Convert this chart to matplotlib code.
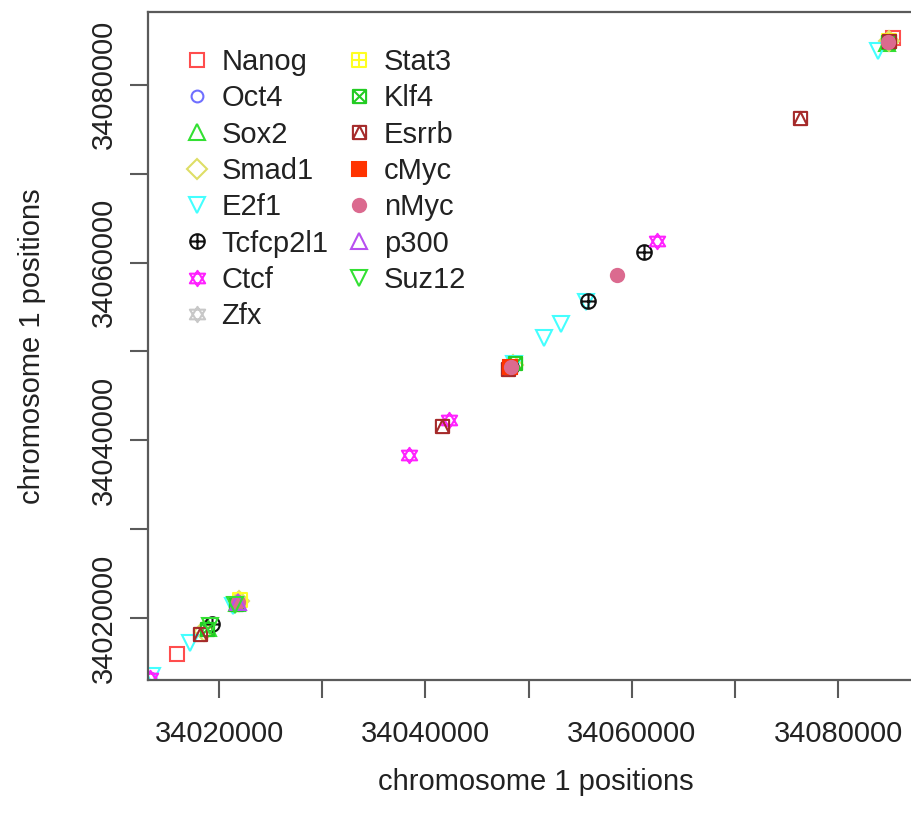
import matplotlib
matplotlib.use("Agg")
import matplotlib.pyplot as plt
from matplotlib.path import Path
import numpy as np

plt.rcParams['font.family'] = ['Liberation Sans', 'DejaVu Sans']

# ---- data (chromosome 1 positions, bp) ----
factors = ["Nanog", "Oct4", "Sox2", "Smad1", "E2f1", "Tcfcp2l1", "Ctcf", "Zfx",
           "Stat3", "Klf4", "Esrrb", "cMyc", "nMyc", "p300", "Suz12"]
Nanog = [34015950, 34085300]
Oct4 = [34013300, 34084800]
Sox2 = [34018900, 34021700, 34084700]
Smad1 = [34018500, 34021900, 34048500, 34084900]
E2f1 = [34013500, 34017200, 34021400, 34048600, 34051500, 34053100, 34055600, 34083800]
Tcfcp2l1 = [34019300, 34048300, 34055700, 34061200]
Ctcf = [34013300, 34038400, 34042300, 34062400]
Zfx = [34048100]
Stat3 = [34022000, 34084900]
Klf4 = [34018800, 34021600, 34048700, 34084800]
Esrrb = [34018200, 34041650, 34048000, 34076300, 34084900]
cMyc = [34048200]
nMyc = [34021800, 34048300, 34058600, 34084850]
p300 = [34021800]
Suz12 = [34019100, 34021500]
positions = [Nanog, Oct4, Sox2, Smad1, E2f1, Tcfcp2l1, Ctcf, Zfx,
             Stat3, Klf4, Esrrb, cMyc, nMyc, p300, Suz12]

xticks = [34020000, 34030000, 34040000, 34050000, 34060000, 34070000, 34080000]
xticklabels = ["34020000", "", "34040000", "", "34060000", "", "34080000"]

# ---- custom R-like symbols ----
def compound(*segs):
    verts, codes = [], []
    for seg, closed in segs:
        verts.append(seg[0]); codes.append(Path.MOVETO)
        for v in seg[1:]:
            verts.append(v); codes.append(Path.LINETO)
        if closed:
            verts.append(seg[0]); codes.append(Path.CLOSEPOLY)
    return Path(verts, codes)

sq = [(-1, -1), (1, -1), (1, 1), (-1, 1)]
circ = Path.unit_circle()
circle_plus = Path.make_compound_path(circ, compound(([(-1, 0), (1, 0)], False), ([(0, -1), (0, 1)], False)))
star = compound(([(0, 0.95), (-0.95, -0.6), (0.95, -0.6)], True), ([(0, -0.95), (-0.95, 0.6), (0.95, 0.6)], True))
square_plus = compound((sq, True), ([(-1, 0), (1, 0)], False), ([(0, -1), (0, 1)], False))
square_x = compound((sq, True), ([(-1, -1), (1, 1)], False), ([(-1, 1), (1, -1)], False))
square_tri = compound((sq, True), ([(-1, -1), (0, 1), (1, -1)], False))

styles = {
    "Nanog":    dict(marker='s', color='#ff4d4d', fill=False, ms=10.5),
    "Oct4":     dict(marker='o', color='#6f6fff', fill=False, ms=8.5),
    "Sox2":     dict(marker='^', color='#33e033', fill=False, ms=11),
    "Smad1":    dict(marker='D', color='#dede66', fill=False, ms=10),
    "E2f1":     dict(marker='v', color='#44ffff', fill=False, ms=11.5),
    "Tcfcp2l1": dict(marker=circle_plus, color='#111111', fill=False, ms=10.5),
    "Ctcf":     dict(marker=star, color='#ff22ff', fill=False, ms=11),
    "Zfx":      dict(marker=star, color='#c8c8c8', fill=False, ms=11),
    "Stat3":    dict(marker=square_plus, color='#ffff22', fill=False, ms=9.5),
    "Klf4":     dict(marker=square_x, color='#22cc22', fill=False, ms=9.5),
    "Esrrb":    dict(marker=square_tri, color='#a52a2a', fill=False, ms=9.5),
    "cMyc":     dict(marker='s', color='#ff3300', fill=True, ms=9.5),
    "nMyc":     dict(marker='o', color='#db6a8f', fill=True, ms=9.5),
    "p300":     dict(marker='^', color='#b84ff0', fill=False, ms=11),
    "Suz12":    dict(marker='v', color='#33e033', fill=False, ms=11.5),
}

W, H = 912, 822
fig = plt.figure(figsize=(W / 100, H / 100), dpi=100)
ax = fig.add_axes([148 / W, 1 - 680 / H, (923 - 148) / W, (680 - 12) / H])

handles = []
for name, pos in zip(factors, positions):
    st = styles[name]
    p = np.array(pos, dtype=float)
    h, = ax.plot(p, p, linestyle='none', marker=st['marker'], markersize=st['ms'],
                 markeredgecolor=st['color'],
                 markerfacecolor=st['color'] if st['fill'] else 'none',
                 markeredgewidth=1.5, label=name)
    handles.append(h)

ax.set_xlim(34013120, 34088200)
ax.set_ylim(34013030, 34088200)

ax.set_xticks(xticks)
ax.set_xticklabels(xticklabels)
ax.set_yticks(xticks)
ax.set_yticklabels(xticklabels, rotation=90, va='center')

for s in ax.spines.values():
    s.set_color('#5a5a5a')
    s.set_linewidth(1.6)

ax.tick_params(axis='both', direction='out', length=13, width=1.5, color='#5a5a5a',
               labelsize=21, labelcolor='#222222')
ax.tick_params(axis='x', pad=16)
ax.tick_params(axis='y', pad=9)

ax.set_xlabel("chromosome 1 positions", fontsize=21, color='#222222', labelpad=14)
ax.set_ylabel("chromosome 1 positions", fontsize=21, color='#222222', labelpad=31)

leg = ax.legend(handles=handles, ncol=2, loc='upper left', frameon=False,
                bbox_to_anchor=(182 / W, 1 - 48 / H), bbox_transform=fig.transFigure,
                borderaxespad=0, borderpad=0, handlelength=1.0, handletextpad=0.35,
                columnspacing=0.55, labelspacing=0.285, fontsize=21)
for t in leg.get_texts():
    t.set_color('#222222')

fig.savefig("out.png", dpi=100)
